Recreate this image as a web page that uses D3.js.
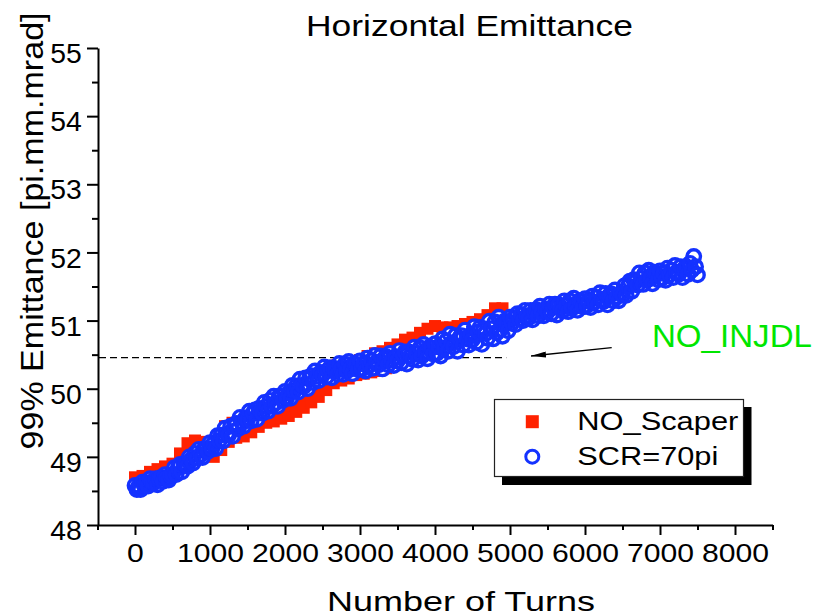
<!DOCTYPE html>
<html>
<head>
<meta charset="utf-8">
<script src="https://cdn.jsdelivr.net/npm/d3@7"></script>
<style>
  html, body { margin: 0; padding: 0; background: #fff; }
  svg { display: block; }
  text { font-family: "Liberation Sans", Arial, Helvetica, sans-serif; fill: #000; }
</style>
</head>
<body>
<svg id="chart" width="814" height="616"></svg>
<script>
// ---- data -------------------------------------------------------------
// NO_Scaper: 99% emittance sampled every 50 turns
const noScaperStart = 0;
const noScaperStep = 50;
const noScaper = [
  48.70, 48.58, 48.72, 48.62, 48.78, 48.66, 48.82, 48.70, 48.86, 48.74,
  48.90, 48.80, 49.05, 48.92, 49.20, 49.02, 49.24, 48.98, 49.22, 49.05,
  49.18, 49.00, 49.26, 49.10, 49.45, 49.22, 49.50, 49.28, 49.40, 49.30,
  49.45, 49.36, 49.55, 49.44, 49.58, 49.50, 49.62, 49.52, 49.66, 49.56,
  49.70, 49.60, 49.75, 49.66, 49.82, 49.72, 49.90, 49.80, 50.00, 49.88,
  50.10, 49.98, 50.20, 50.08, 50.35, 50.12, 50.38, 50.15, 50.40, 50.20,
  50.42, 50.22, 50.48, 50.24, 50.52, 50.26, 50.55, 50.30, 50.60, 50.35,
  50.65, 50.40, 50.72, 50.45, 50.75, 50.50, 50.82, 50.55, 50.88, 50.60,
  50.92, 50.62, 50.90, 50.65, 50.90, 50.68, 50.92, 50.70, 50.95, 50.72,
  50.98, 50.75, 51.02, 50.80, 51.08, 50.84, 51.18, 50.88, 51.18, 50.92
];

// SCR=70pi: 99% emittance sampled every 25 turns
const scrStart = 0;
const scrStep = 25;
const scr70pi = [
  48.58, 48.52, 48.57, 48.52, 48.63, 48.58, 48.62, 48.57, 48.68, 48.63, 48.62, 48.68, 48.59, 48.68, 48.70, 48.64, 48.74, 48.69, 48.66, 48.73,
  48.74, 48.84, 48.74, 48.84, 48.89, 48.78, 48.90, 48.88, 48.86, 49.00, 48.96, 48.91, 49.05, 48.98, 49.11, 49.03, 48.99, 49.12, 49.12, 49.08,
  49.21, 49.12, 49.20, 49.12, 49.31, 49.24, 49.32, 49.23, 49.42, 49.34, 49.32, 49.45, 49.30, 49.45, 49.49, 49.41, 49.58, 49.50, 49.45, 49.57,
  49.54, 49.67, 49.53, 49.64, 49.69, 49.55, 49.71, 49.67, 49.64, 49.80, 49.74, 49.67, 49.83, 49.74, 49.89, 49.79, 49.74, 49.89, 49.89, 49.83,
  49.96, 49.87, 49.94, 49.86, 50.05, 49.97, 50.04, 49.95, 50.14, 50.05, 50.03, 50.16, 50.00, 50.15, 50.19, 50.09, 50.26, 50.18, 50.12, 50.24,
  50.20, 50.32, 50.17, 50.27, 50.31, 50.16, 50.30, 50.26, 50.21, 50.37, 50.29, 50.21, 50.36, 50.26, 50.40, 50.29, 50.22, 50.37, 50.35, 50.28,
  50.41, 50.29, 50.36, 50.26, 50.45, 50.35, 50.41, 50.30, 50.49, 50.39, 50.35, 50.48, 50.29, 50.44, 50.47, 50.35, 50.52, 50.42, 50.34, 50.46,
  50.41, 50.56, 50.38, 50.49, 50.54, 50.36, 50.54, 50.48, 50.43, 50.61, 50.52, 50.42, 50.60, 50.48, 50.65, 50.52, 50.44, 50.61, 50.60, 50.51,
  50.66, 50.52, 50.61, 50.48, 50.73, 50.60, 50.70, 50.55, 50.80, 50.67, 50.62, 50.78, 50.55, 50.74, 50.78, 50.64, 50.86, 50.73, 50.64, 50.79,
  50.72, 50.91, 50.68, 50.83, 50.90, 50.65, 50.88, 50.81, 50.74, 50.99, 50.88, 50.73, 50.98, 50.82, 51.05, 50.87, 50.77, 50.99, 50.97, 50.85,
  51.05, 50.96, 51.03, 50.94, 51.10, 51.02, 51.09, 51.00, 51.15, 51.07, 51.04, 51.15, 51.01, 51.13, 51.16, 51.07, 51.21, 51.13, 51.07, 51.17,
  51.13, 51.24, 51.10, 51.19, 51.24, 51.08, 51.23, 51.18, 51.14, 51.29, 51.22, 51.13, 51.29, 51.18, 51.33, 51.21, 51.15, 51.29, 51.28, 51.20,
  51.32, 51.22, 51.28, 51.19, 51.36, 51.27, 51.34, 51.23, 51.41, 51.31, 51.28, 51.40, 51.23, 51.37, 51.39, 51.29, 51.45, 51.35, 51.29, 51.40,
  51.37, 51.51, 51.37, 51.50, 51.58, 51.43, 51.60, 51.57, 51.52, 51.70, 51.62, 51.53, 51.70, 51.59, 51.74, 51.62, 51.54, 51.71, 51.68, 51.60,
  51.73, 51.62, 51.69, 51.59, 51.77, 51.67, 51.74, 51.63, 51.81, 51.71, 51.68, 51.79, 51.63, 51.76, 51.79, 51.68, 51.84, 51.74, 51.94, 51.79,
  51.67
];

const xMajorTicks = [0, 1000, 2000, 3000, 4000, 5000, 6000, 7000, 8000];
const xMinorTicks = [-500, 500, 1500, 2500, 3500, 4500, 5500, 6500, 7500, 8500];
const yMajorTicks = [48, 49, 50, 51, 52, 53, 54, 55];
const yMinorTicks = [48.5, 49.5, 50.5, 51.5, 52.5, 53.5, 54.5];

const injdlLevel = 50.455;           // reference level without injection
const injdlSpan = [-480, 4950];      // turns covered by the dashed reference line

const seriesNames = ["NO_Scaper", "SCR=70pi"];
const colors = { red: "#ff2200", blue: "#1432ff", green: "#00e600" };

// ---- scales -----------------------------------------------------------
const svg = d3.select("#chart");
const x = d3.scaleLinear().domain([-500, 8500]).range([97.5, 772.5]);
const y = d3.scaleLinear().domain([48, 55]).range([525, 48]);

const redPts = noScaper.map((v, i) => ({ t: noScaperStart + i * noScaperStep, v }));
const bluePts = scr70pi.map((v, i) => ({ t: scrStart + i * scrStep, v }));

// ---- reference level (dashed) -----------------------------------------
svg.append("line")
  .attr("x1", x(injdlSpan[0])).attr("x2", x(injdlSpan[1]))
  .attr("y1", y(injdlLevel)).attr("y2", y(injdlLevel))
  .attr("stroke", "#000").attr("stroke-width", 1.2)
  .attr("stroke-dasharray", "7,4");

// ---- marks --------------------------------------------------------------
const SQ = 12;
svg.append("g").selectAll("rect").data(redPts).join("rect")
  .attr("x", d => x(d.t) - SQ / 2).attr("y", d => y(d.v) - SQ / 2)
  .attr("width", SQ).attr("height", SQ)
  .attr("fill", colors.red);

const R = 6.7, RW = 3.4;
// white backing hides the squares under the ring band
svg.append("g").selectAll("circle").data(bluePts).join("circle")
  .attr("cx", d => x(d.t)).attr("cy", d => y(d.v)).attr("r", R)
  .attr("fill", "#fff");
svg.append("g").selectAll("circle").data(bluePts).join("circle")
  .attr("cx", d => x(d.t)).attr("cy", d => y(d.v)).attr("r", R)
  .attr("fill", "none").attr("stroke", colors.blue).attr("stroke-width", RW);

// ---- axes ---------------------------------------------------------------
const axisStroke = 2;
const gx = svg.append("g").attr("transform", "translate(0,525)")
  .call(d3.axisBottom(x).tickValues(xMajorTicks).tickSize(10).tickSizeOuter(0).tickFormat(d3.format("d")));
svg.append("g").attr("transform", "translate(0,525)")
  .call(d3.axisBottom(x).tickValues(xMinorTicks).tickSize(5).tickSizeOuter(0).tickFormat(""))
  .call(g => g.select(".domain").remove());
gx.selectAll("text")
  .attr("y", 37).attr("dy", null)
  .attr("font-size", 26)
  .attr("transform", "scale(1.16,1)");

const gy = svg.append("g").attr("transform", "translate(98,0)")
  .call(d3.axisLeft(y).tickValues(yMajorTicks).tickSize(11).tickSizeOuter(0).tickFormat(d3.format("d")));
svg.append("g").attr("transform", "translate(98,0)")
  .call(d3.axisLeft(y).tickValues(yMinorTicks).tickSize(6).tickSizeOuter(0).tickFormat(""))
  .call(g => g.select(".domain").remove());
gy.selectAll("text")
  .attr("x", -16.3 / 1.05).attr("y", 14.7).attr("dy", null)
  .attr("font-size", 27)
  .attr("transform", "scale(1.05,1)");

svg.selectAll(".domain, .tick line").attr("stroke", "#000").attr("stroke-width", axisStroke);
svg.selectAll(".tick text").attr("fill", "#000").attr("font-family", "Liberation Sans, Arial, sans-serif");

// ---- titles -------------------------------------------------------------
svg.append("text")
  .attr("x", 469.5).attr("y", 36)
  .attr("text-anchor", "middle").attr("font-size", 29)
  .attr("textLength", 327).attr("lengthAdjust", "spacingAndGlyphs")
  .text("Horizontal Emittance");

svg.append("text")
  .attr("x", 461).attr("y", 611)
  .attr("text-anchor", "middle").attr("font-size", 28)
  .attr("textLength", 268).attr("lengthAdjust", "spacingAndGlyphs")
  .text("Number of Turns");

svg.append("text")
  .attr("transform", "translate(43,231) rotate(-90)")
  .attr("text-anchor", "middle").attr("font-size", 32)
  .attr("textLength", 437).attr("lengthAdjust", "spacingAndGlyphs")
  .text("99% Emittance [pi.mm.mrad]");

// ---- annotation ----------------------------------------------------------
svg.append("defs").append("marker")
  .attr("id", "arrowHead").attr("viewBox", "0 0 15 6")
  .attr("refX", 15).attr("refY", 3)
  .attr("markerUnits", "userSpaceOnUse")
  .attr("markerWidth", 15).attr("markerHeight", 6)
  .attr("orient", "auto")
  .append("path").attr("d", "M0,0 L15,3 L0,6 Z").attr("fill", "#000");

const arrowFrom = { t: 6356, v: 50.602 };
const arrowTo = { t: 5280, v: 50.48 };
svg.append("line")
  .attr("x1", x(arrowFrom.t)).attr("y1", y(arrowFrom.v))
  .attr("x2", x(arrowTo.t)).attr("y2", y(arrowTo.v))
  .attr("stroke", "#000").attr("stroke-width", 1.3)
  .attr("marker-end", "url(#arrowHead)");

svg.append("text")
  .attr("x", x(6893)).attr("y", y(50.608))
  .attr("font-size", 31)
  .style("fill", colors.green)
  .attr("textLength", 160).attr("lengthAdjust", "spacingAndGlyphs")
  .text("NO_INJDL");

// ---- legend -------------------------------------------------------------
const lg = svg.append("g");
lg.append("rect").attr("x", 502).attr("y", 407).attr("width", 249.5).attr("height", 78).attr("fill", "#000");
lg.append("rect").attr("x", 494.5).attr("y", 399.5).attr("width", 249).attr("height", 77)
  .attr("fill", "#fff").attr("stroke", "#222").attr("stroke-width", 1.2);
lg.append("rect").attr("x", 532.3 - 6.5).attr("y", 421.7 - 6.5).attr("width", 13).attr("height", 13).attr("fill", colors.red);
lg.append("circle").attr("cx", 532.3).attr("cy", 456.7).attr("r", 6.5)
  .attr("fill", "none").attr("stroke", colors.blue).attr("stroke-width", 3);
lg.append("text").attr("x", 577.3).attr("y", 430).attr("font-size", 26)
  .attr("textLength", 161).attr("lengthAdjust", "spacingAndGlyphs").text(seriesNames[0]);
lg.append("text").attr("x", 577.3).attr("y", 465).attr("font-size", 26)
  .attr("textLength", 141).attr("lengthAdjust", "spacingAndGlyphs").text(seriesNames[1]);
</script>
</body>
</html>
